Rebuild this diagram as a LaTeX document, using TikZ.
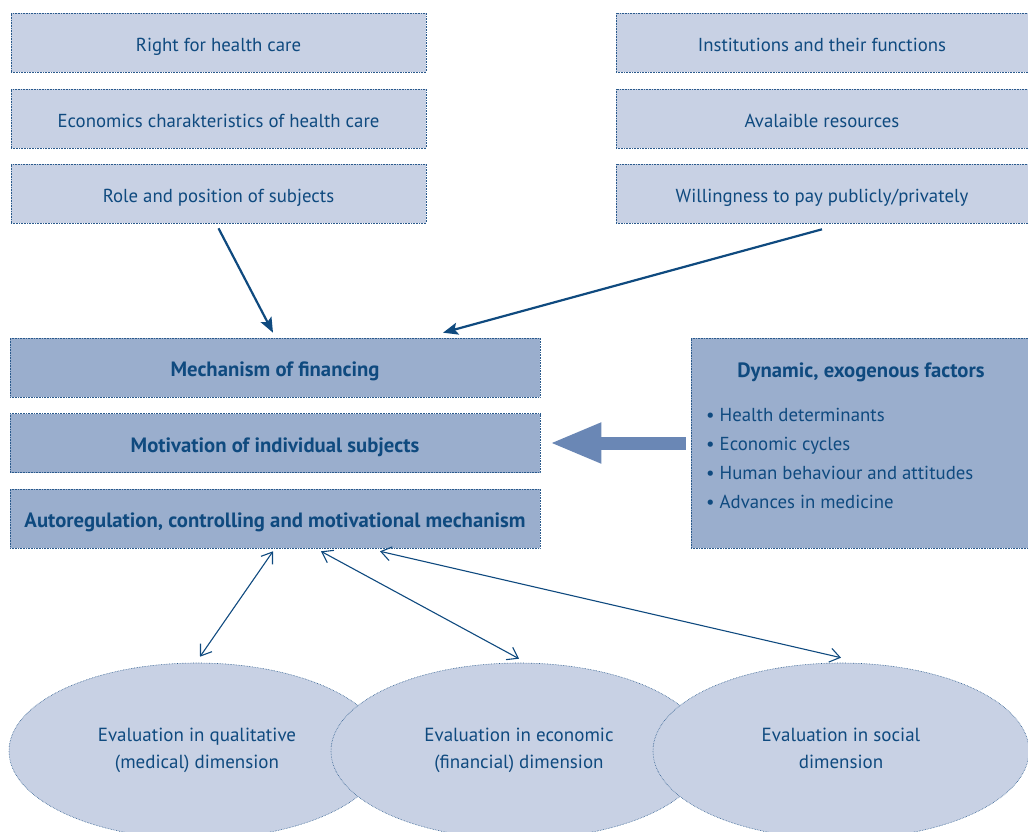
\documentclass[tikz,border=0pt]{standalone}
\usepackage{fontspec}
\setmainfont{PT Sans}
\usetikzlibrary{arrows.meta,shapes.geometric,calc}
\definecolor{txt}{HTML}{0F4A7F}
\definecolor{lightbox}{HTML}{C8D1E4}
\definecolor{darkbox}{HTML}{9AAECD}
\definecolor{bigarrow}{HTML}{6A87B5}
\definecolor{edge}{HTML}{2A5A8C}
\tikzset{
  base/.style={draw=edge, densely dotted, line width=0.6pt, text=txt, font=\fontsize{18.8}{22}\selectfont, inner sep=0pt},
  oneline/.style={text height=18.4pt, text depth=0pt},
  lbox/.style={base, oneline, fill=lightbox, minimum width=415pt, minimum height=59pt},
  rbox/.style={base, oneline, fill=lightbox, minimum width=412pt, minimum height=59pt},
  mbox/.style={base, oneline, fill=darkbox, minimum width=530pt, minimum height=59pt, font=\fontsize{20.7}{24}\selectfont\bfseries},
  ell/.style={base, ellipse, fill=lightbox, minimum width=376pt, minimum height=176pt, align=center, text depth=4.7pt, font=\fontsize{19}{27}\selectfont},
  conn/.style={draw=txt, line width=2.2pt, -{Stealth[length=15pt,width=12pt,inset=3pt]}},
  dconn/.style={draw=txt, line width=1.1pt, {Straight Barb[length=10pt,width=14pt]}-{Straight Barb[length=10pt,width=14pt]}},
}
\begin{document}
\begin{tikzpicture}[x=1pt,y=-1pt]
\useasboundingbox (0,0) rectangle (1028,832);
% top left boxes
\node[lbox] (right) at (218.5,42.5) {Right for health care};
\node[lbox] (econ) at (218.5,118.5) {Economics charakteristics of health care};
\node[lbox] (role) at (218.5,193.5) {Role and position of subjects};
% top right boxes
\node[rbox] (inst) at (822,42.5) {Institutions and their functions};
\node[rbox] (res) at (822,118.5) {Avalaible resources};
\node[rbox] (will) at (822,193.5) {Willingness to pay publicly/privately};
% middle boxes
\node[mbox] (mech) at (275,367.5) {Mechanism of financing};
\node[mbox] (motiv) at (275,443) {Motivation of individual subjects};
\node[mbox] (auto) at (275,518.5) {Autoregulation, controlling and motivational mechanism};
% dynamic box
\node[base, fill=darkbox, minimum width=337pt, minimum height=210pt] (dyn) at (859.5,443) {};
\node[text=txt, font=\fontsize{20.7}{24}\selectfont\bfseries, inner sep=0pt] (dyntitle) at (861,372) {Dynamic, exogenous factors};
\node[text=txt, font=\fontsize{18.8}{29.3}\selectfont, inner sep=0pt, anchor=north west, align=left] (dynlist) at (706,407.5) {\textbullet\ Health determinants\\\textbullet\ Economic cycles\\\textbullet\ Human behaviour and attitudes\\\textbullet\ Advances in medicine};
% ellipses
\node[ell] (e1) at (197,751) {Evaluation in qualitative\\(medical) dimension};
\node[ell] (e2) at (519,751) {Evaluation in economic\\(financial) dimension};
\node[ell] (e3) at (841,751) {Evaluation in social\\dimension};
% connectors
\draw[conn] ($(role.south)+(0,5)$) -- ($(mech.north)+(-2,-5)$);
\draw[conn] ($(will.south)+(0,6)$) -- ($(mech.north)+(168,-5)$);
\draw[line width=13pt, draw=bigarrow, -{Triangle[length=52pt,width=37pt]}] ($(dyn.west)+(-5,0)$) -- ($(motiv.east)+(9,0)$);
\draw[dconn] ($(auto.south)+(-2,3)$) -- ($(e1.north)+(3,-6)$);
\draw[dconn] ($(auto.south)+(46,3)$) -- ($(e2.north)+(0,-4)$);
\draw[dconn] ($(auto.south)+(105,3)$) -- ($(e3.north)+(0,-5)$);
\end{tikzpicture}
\end{document}
